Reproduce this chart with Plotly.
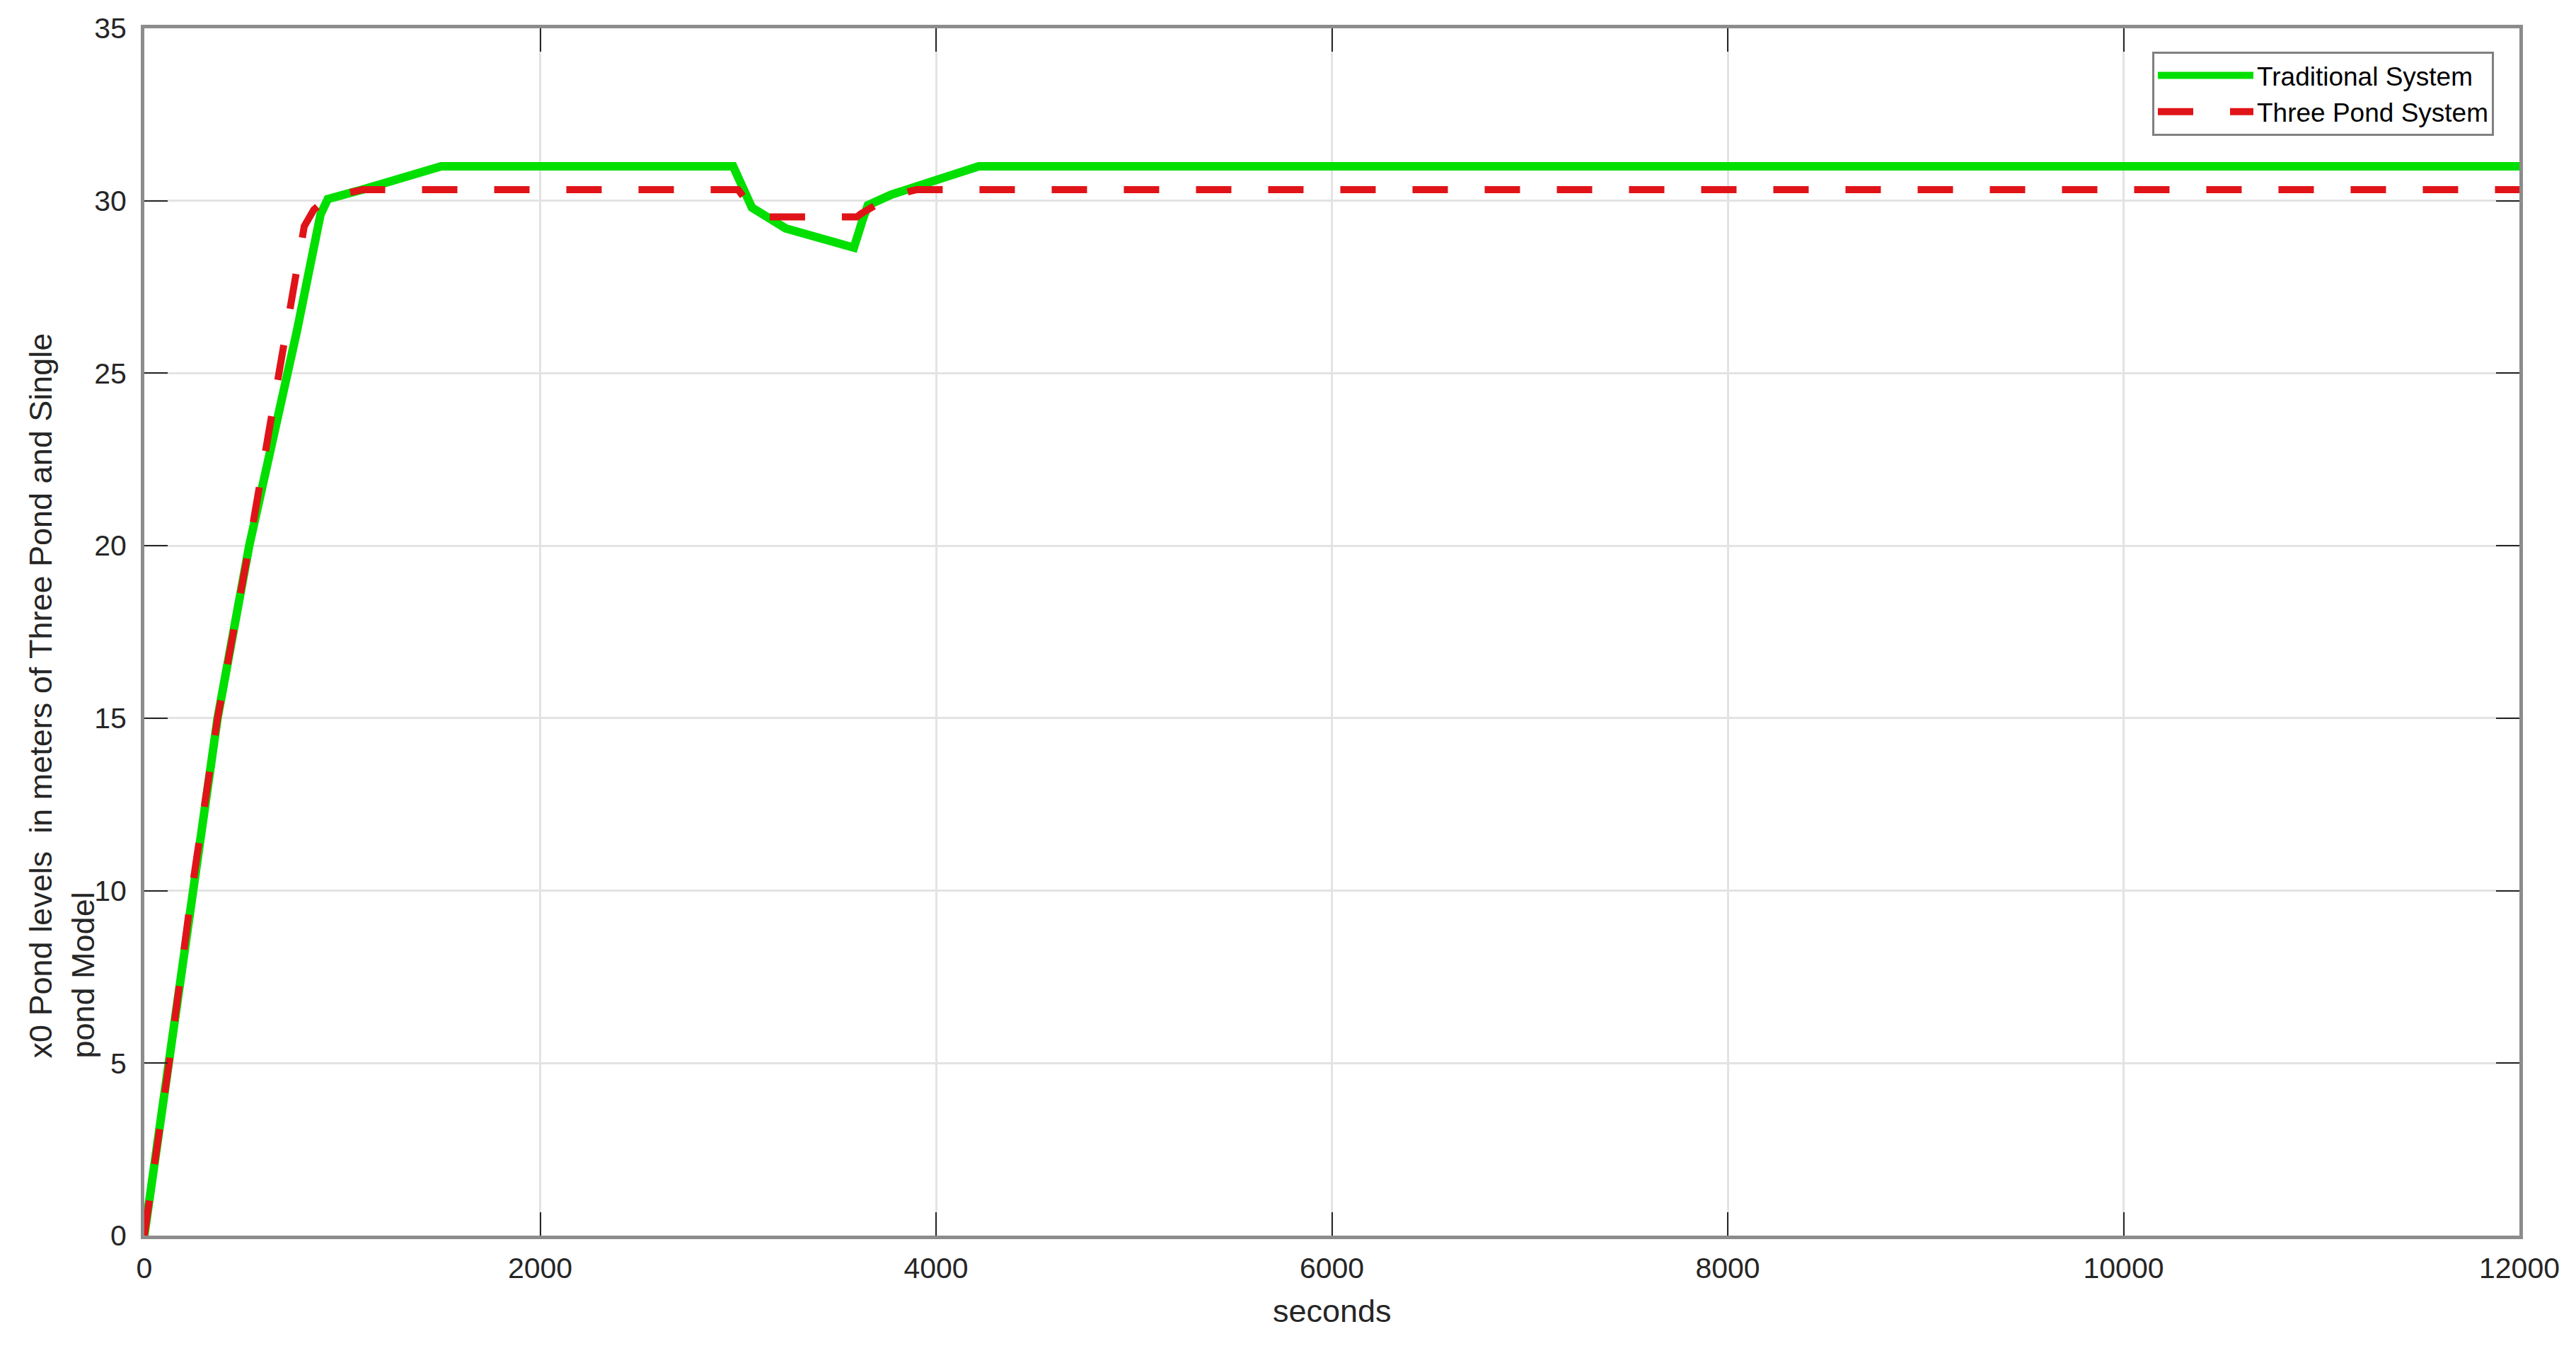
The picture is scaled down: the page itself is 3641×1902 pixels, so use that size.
import plotly.graph_objects as go

# Data
t_trad = [0, 125, 240, 370, 530, 690, 770, 890, 927, 1100, 1500, 2975, 3070, 3240, 3585, 3632, 3656, 3775, 4216, 12000]
h_trad = [0.0, 5.0, 10.0, 15.0, 20.0, 24.1, 26.2, 29.6, 30.05, 30.32, 31.0, 31.0, 29.8, 29.2, 28.64, 29.5, 29.87, 30.18, 31.0, 31.0]

t_three = [0, 125, 240, 370, 530, 640, 760, 808, 856, 928, 1100, 3000, 3072, 3110, 3600, 3620, 3775, 3900, 12000]
h_three = [0.0, 5.0, 10.0, 15.0, 20.0, 23.6, 27.6, 29.26, 29.74, 30.1, 30.32, 30.32, 29.77, 29.53, 29.53, 29.62, 30.14, 30.32, 30.32]

x_ticks = [0, 2000, 4000, 6000, 8000, 10000, 12000]
x_tick_labels = ["0", "2000", "4000", "6000", "8000", "10000", "12000"]
y_ticks = [0, 5, 10, 15, 20, 25, 30, 35]
y_tick_labels = ["0", "5", "10", "15", "20", "25", "30", "35"]

series_names = ["Traditional System", "Three Pond System"]
x_title = "seconds"
y_title_1 = "x0 Pond levels\u00a0 in meters of Three Pond and Single"
y_title_2 = "pond Model"

FONT = "Liberation Sans, Arial, Helvetica, sans-serif"
TXT = "#262626"

fig = go.Figure()
fig.add_trace(go.Scatter(x=t_trad, y=h_trad, mode="lines", name=series_names[0],
                         line=dict(color="#00df00", width=12)))
fig.add_trace(go.Scatter(x=t_three, y=h_three, mode="lines", name=series_names[1],
                         line=dict(color="#e01418", width=10, dash="50px,52px")))

W, H = 3641, 1902
L, R, T, B = 204, 80, 40, 156
pw, ph = W - L - R, H - T - B

def px_x(p):
    return (p - L) / pw

def px_y(p):
    return (H - B - p) / ph

axis_common = dict(
    showgrid=True, gridcolor="#e3e3e3", gridwidth=3,
    showline=True, linecolor="#8c8c8c", linewidth=5, mirror="ticks",
    ticks="inside", ticklen=33, tickwidth=2, tickcolor=TXT,
    zeroline=False, tickfont=dict(family=FONT, size=41, color=TXT),
)

fig.update_layout(
    width=W, height=H, autosize=False,
    margin=dict(l=L, r=R, t=T, b=B),
    paper_bgcolor="white", plot_bgcolor="white",
    font=dict(family=FONT, color=TXT),
    xaxis=dict(range=[0, 12000], tickmode="array", tickvals=x_ticks, ticktext=x_tick_labels,
               ticklabelstandoff=6, **axis_common),
    yaxis=dict(range=[0, 35], tickmode="array", tickvals=y_ticks, ticktext=y_tick_labels,
               ticklabelstandoff=12, **axis_common),
    showlegend=True,
    legend=dict(
        x=px_x(3525), y=px_y(73), xanchor="right", yanchor="top",
        bgcolor="white", bordercolor="#808080", borderwidth=3,
        font=dict(family=FONT, size=37, color="black"),
        itemwidth=135, tracegroupgap=0,
    ),
    annotations=[
        dict(text=y_title_1, xref="paper", yref="paper", x=px_x(57), y=px_y(1498),
             xanchor="center", yanchor="bottom", textangle=-90, showarrow=False,
             font=dict(family=FONT, size=45, color=TXT)),
        dict(text=y_title_2, xref="paper", yref="paper", x=px_x(117), y=px_y(1498),
             xanchor="center", yanchor="bottom", textangle=-90, showarrow=False,
             font=dict(family=FONT, size=45, color=TXT)),
        dict(text=x_title, xref="paper", yref="paper", x=0.5, y=px_y(1852),
             xanchor="center", yanchor="middle", showarrow=False,
             font=dict(family=FONT, size=45, color=TXT)),
    ],
)

fig.write_html("out.html", config={"responsive": False, "displayModeBar": False},
               post_script="document.body.style.margin='0';document.body.style.overflow='hidden';")
